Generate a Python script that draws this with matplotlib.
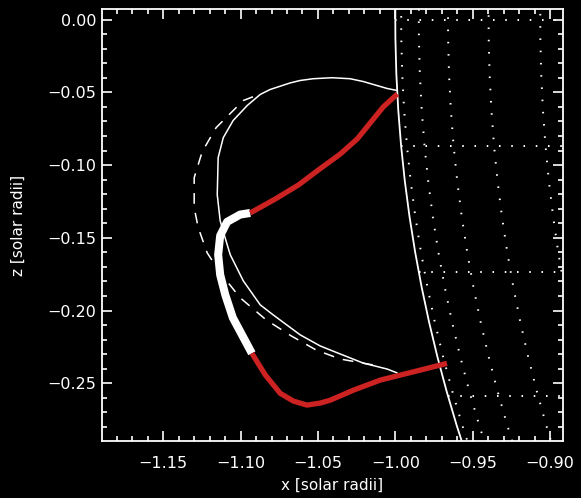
import numpy as np
import matplotlib
matplotlib.use("Agg")
import matplotlib.pyplot as plt
from matplotlib.patches import Circle, Ellipse
from matplotlib.ticker import MultipleLocator

# ---- data ----
# thin solid loop
thin_x = [-0.9988, -1.0053, -1.0208, -1.0292, -1.0410, -1.0531, -1.0615, -1.0680, -1.0809, -1.0873,
          -1.0957, -1.1048, -1.1112, -1.1145, -1.1151, -1.1132, -1.1100, -1.1067, -1.0983,
          -1.0873, -1.0789, -1.0615, -1.0486, -1.0421, -1.0208, -1.0053, -0.9990]
thin_z = [-0.0487, -0.0473, -0.0425, -0.0406, -0.0399, -0.0406, -0.0418, -0.0435, -0.0480, -0.0514,
          -0.0590, -0.0693, -0.0811, -0.0948, -0.1203, -0.1382, -0.1500, -0.1616, -0.1795,
          -0.1961, -0.2030, -0.2167, -0.2243, -0.2271, -0.2361, -0.2402, -0.2428]

# dashed loop
dash_x = [-1.0920, -1.0983, -1.1080, -1.1158, -1.1248, -1.1300, -1.1300, -1.1274, -1.1216,
          -1.1132, -1.1003, -1.0835, -1.0673, -1.0512, -1.0357, -1.0143]
dash_z = [-0.0530, -0.0556, -0.0659, -0.0742, -0.0907, -0.1086, -0.1293, -0.1430, -0.1603,
          -0.1740, -0.1912, -0.2064, -0.2174, -0.2271, -0.2333, -0.2374]

# thick curve: upper red part
red1_x = [-0.9987, -1.0078, -1.0162, -1.0246, -1.0356, -1.0498, -1.0627, -1.0776, -1.0938]
red1_z = [-0.0511, -0.0600, -0.0710, -0.0820, -0.0924, -0.1034, -0.1137, -0.1233, -0.1329]

# thick curve: white middle part
white_x = [-1.0938, -1.1003, -1.1087, -1.1132, -1.1145, -1.1132, -1.1099, -1.1050, -1.0927]
white_z = [-0.1329, -0.1340, -0.1390, -0.1485, -0.1616, -0.1754, -0.1892, -0.2050, -0.2294]

# thick curve: lower red part
red2_x = [-1.0927, -1.0841, -1.0744, -1.0660, -1.0571, -1.0485, -1.0420, -1.0270, -1.0097,
          -0.9882, -0.9666]
red2_z = [-0.2294, -0.2442, -0.2569, -0.2622, -0.2650, -0.2636, -0.2616, -0.2547, -0.2478,
          -0.2421, -0.2363]

# heliographic grid (degrees)
grid_lats = [0, -5, -10, -15]
grid_lons = [5, 10, 15, 20, 25]

x_ticks = [-1.15, -1.10, -1.05, -1.00, -0.95, -0.90]
z_ticks = [0.00, -0.05, -0.10, -0.15, -0.20, -0.25]

# ---- figure ----
fig = plt.figure(figsize=(5.81, 4.98), dpi=100, facecolor="black")
ax = fig.add_axes([0.1750, 0.1150, 0.7935, 0.8665])
ax.set_facecolor("black")
ax.set_xlim(-1.1898, -0.8918)
ax.set_ylim(-0.2895, 0.0072)

dot_style = (0, (0.8, 5.5))

# solar limb
ax.add_patch(Circle((0, 0), 1.0, fill=False, edgecolor="white", lw=1.3, zorder=2))

# meridians (dotted)
for lon in grid_lons:
    w = 2 * np.cos(np.radians(lon))
    ax.add_patch(Ellipse((0, 0), w, 2.0, fill=False, edgecolor="white", lw=1.4,
                         linestyle=dot_style, zorder=1))
# parallels (dotted)
for lat in grid_lats:
    zz = np.sin(np.radians(lat))
    xs = -np.cos(np.radians(lat))
    ax.plot([xs, -0.8918], [zz, zz], color="white", lw=1.4, linestyle=dot_style, zorder=1)

# loops
ax.plot(thin_x, thin_z, color="white", lw=1.1, zorder=3)
ax.plot(dash_x, dash_z, color="white", lw=1.1, dashes=(7, 6), zorder=3)
ax.plot(white_x, white_z, color="white", lw=5.8, solid_capstyle="butt",
        solid_joinstyle="round", zorder=4)
ax.plot(red1_x, red1_z, color="#cc2222", lw=3.8, solid_capstyle="butt",
        solid_joinstyle="round", zorder=5)
ax.plot(red2_x, red2_z, color="#cc2222", lw=3.8, solid_capstyle="butt",
        solid_joinstyle="round", zorder=5)

# axes styling
for s in ax.spines.values():
    s.set_color("white")
    s.set_linewidth(1.3)
ax.set_xticks(x_ticks)
ax.set_yticks(z_ticks)
ax.set_xticklabels([f"{v:.2f}".replace("-", "\u2212") for v in x_ticks])
ax.set_yticklabels([f"{v:.2f}".replace("-", "\u2212") if v != 0 else "0.00" for v in z_ticks])
ax.xaxis.set_minor_locator(MultipleLocator(0.01))
ax.yaxis.set_minor_locator(MultipleLocator(0.01))
ax.tick_params(which="both", direction="in", top=True, right=True, colors="white",
               width=1.2, labelsize=11.5)
ax.tick_params(which="major", length=7)
ax.tick_params(which="minor", length=3.6)
ax.tick_params(axis="x", which="major", pad=11)
ax.tick_params(axis="y", which="major", pad=4)
ax.set_xlabel("x [solar radii]", color="white", fontsize=11, labelpad=5)
ax.set_ylabel("z [solar radii]", color="white", fontsize=11, labelpad=15)

fig.savefig("out.png", dpi=100, facecolor="black")
